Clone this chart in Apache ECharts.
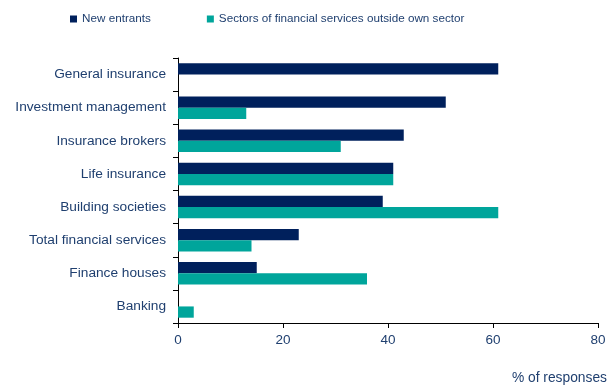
<!DOCTYPE html>
<html><head><meta charset="utf-8">
<script src="https://cdn.jsdelivr.net/npm/echarts@6/dist/echarts.min.js"></script>
<style>html,body{margin:0;padding:0;background:#fff}#c{width:614px;height:385px}</style>
</head><body><div id="c"></div>
<script>
var categories = ["General insurance","Investment management","Insurance brokers","Life insurance","Building societies","Total financial services","Finance houses","Banking"];
var newEntrants = [61,51,43,41,39,23,15,0];
var otherSectors = [0,13,31,41,61,14,36,3];
var xTicks = [0,20,40,60,80];
var seriesNames = ["New entrants","Sectors of financial services outside own sector"];
var xAxisTitle = "% of responses";

var txt = '#1F3F6F';
var font = 'Liberation Sans, Arial, sans-serif';
var chart = echarts.init(document.getElementById('c'));
chart.setOption({
  animation:false,
  textStyle:{fontFamily:font},
  legend:{top:8,left:65,itemWidth:7,itemHeight:7,itemGap:56,icon:'rect',
    textStyle:{color:txt,fontSize:11.7,fontFamily:font},data:seriesNames},
  grid:{left:178,right:16,top:58,bottom:62,containLabel:false},
  xAxis:{type:'value',min:xTicks[0],max:xTicks[xTicks.length-1],interval:20,
    axisLine:{show:true,lineStyle:{color:'#000',width:1}},
    axisTick:{show:true,length:5,lineStyle:{color:'#000'}},
    splitLine:{show:false},
    axisLabel:{color:txt,fontSize:13.5,margin:10,fontFamily:font}},
  yAxis:{type:'category',data:categories,inverse:true,
    axisLine:{show:true,lineStyle:{color:'#000',width:1}},
    axisTick:{show:true,length:5,lineStyle:{color:'#000'}},
    axisLabel:{color:txt,fontSize:13.7,margin:12,fontFamily:font}},
  series:[
    {name:seriesNames[0],type:'bar',data:newEntrants,barGap:'0%',barCategoryGap:'32%',
      itemStyle:{color:'#00205C'}},
    {name:seriesNames[1],type:'bar',data:otherSectors,barGap:'0%',barCategoryGap:'32%',
      itemStyle:{color:'#00A59B'}}
  ],
  graphic:[{type:'text',right:7,top:371,style:{text:xAxisTitle,fill:txt,font:'13.8px '+font}}]
});
</script></body></html>
